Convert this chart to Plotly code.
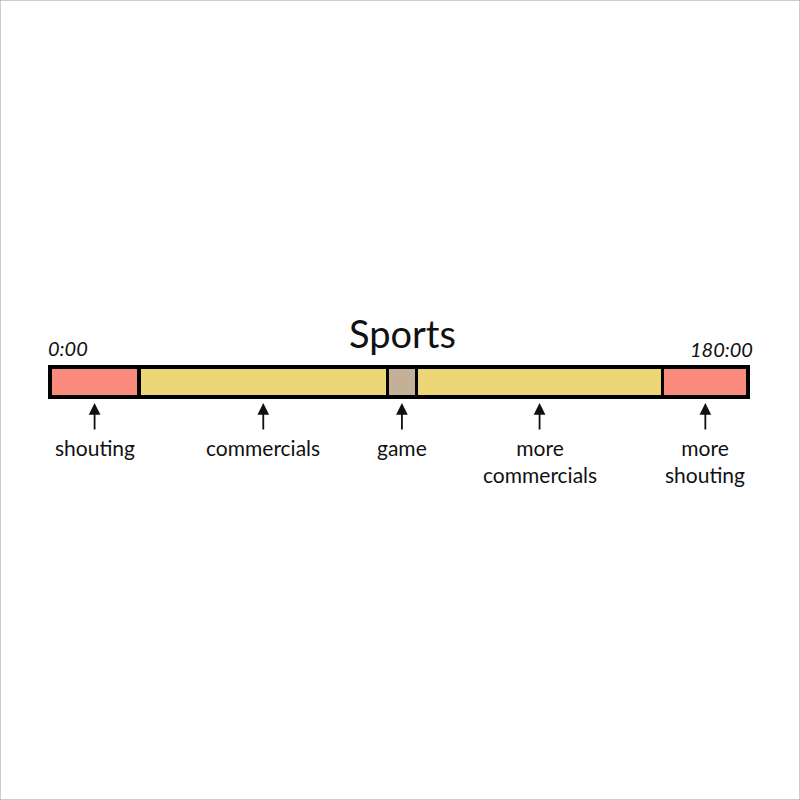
import plotly.graph_objects as go

segments = ["shouting", "commercials", "game", "more commercials", "more shouting"]
durations = [23, 64, 7.5, 63.5, 22]
colors = ["#FA8A7C", "#EBD574", "#C4B096", "#EBD574", "#FA8A7C"]
labels = ["shouting", "commercials", "game", "more<br>commercials", "more<br>shouting"]
title = "Sports"
start_label = "0:00"
end_label = "180:00"
total = 180

FONT = "Lato"
W = 800
left_px, right_px = 50, 748
scale = (right_px - left_px) / total
xr = [-left_px / scale, total + (W - right_px) / scale]

def px2x(p):
    return (p - left_px) / scale

fig = go.Figure()
for name, d, c in zip(segments, durations, colors):
    fig.add_trace(go.Bar(
        x=[d], y=[418], width=30, orientation="h", name=name,
        marker=dict(color=c, line=dict(color="black", width=3.5)),
        hoverinfo="name+x",
    ))

anns = []
cum = 0
for d, lab in zip(durations, labels):
    mid = cum + d / 2
    cum += d
    anns.append(dict(x=mid, y=800 - 403, xref="x", yref="y", ax=0, ay=28,
                     text="", showarrow=True, arrowhead=2, arrowsize=1.3,
                     arrowwidth=1.8, arrowcolor="#111"))
    two = "<br>" in lab
    anns.append(dict(x=mid, y=800 - (461 if two else 447), xref="x", yref="y",
                     text=lab, showarrow=False, yanchor="middle",
                     font=dict(family=FONT, size=21, color="#111")))

anns.append(dict(x=px2x(402), y=800 - 333, xref="x", yref="y", text=title,
                 showarrow=False, font=dict(family=FONT, size=38, color="#111")))
anns.append(dict(x=px2x(68), y=800 - 348, xref="x", yref="y", text="<i>" + start_label + "</i>",
                 showarrow=False, font=dict(family=FONT, size=20, color="#111")))
anns.append(dict(x=px2x(721), y=800 - 349, xref="x", yref="y", text="<i>" + end_label + "</i>",
                 showarrow=False, font=dict(family=FONT, size=20, color="#111")))

fig.update_layout(
    width=800, height=800, barmode="stack", showlegend=False,
    margin=dict(l=0, r=0, t=0, b=0),
    paper_bgcolor="white", plot_bgcolor="white",
    xaxis=dict(range=xr, visible=False, fixedrange=True),
    yaxis=dict(range=[0, 800], visible=False, fixedrange=True),
    annotations=anns,
    shapes=[dict(type="rect", xref="paper", yref="paper", x0=0, y0=0, x1=1, y1=1,
                 line=dict(color="#999", width=1))],
)
fig.write_html("out.html", config={"displayModeBar": False},
               post_script="document.body.style.margin='0';document.body.style.overflow='hidden';")
